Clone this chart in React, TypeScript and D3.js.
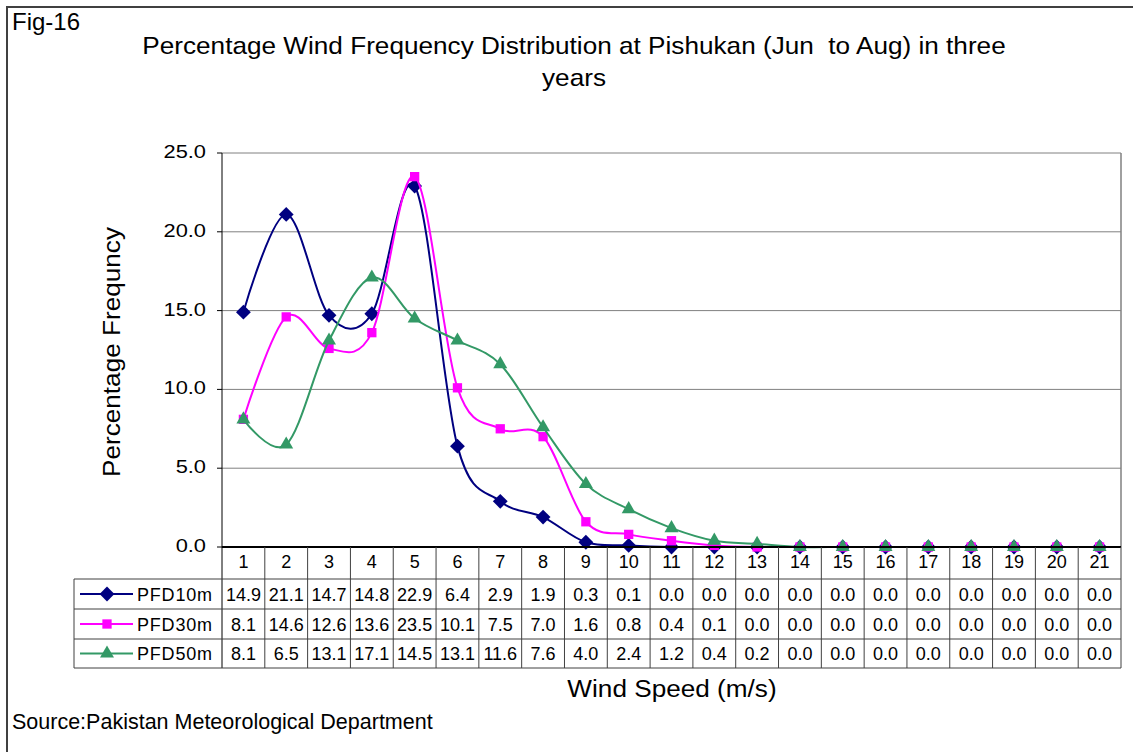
import React from "react";
import * as d3 from "d3";

const categories = ["1","2","3","4","5","6","7","8","9","10","11","12","13","14","15","16","17","18","19","20","21"];
const pfd10 = [14.9,21.1,14.7,14.8,22.9,6.4,2.9,1.9,0.3,0.1,0.0,0.0,0.0,0.0,0.0,0.0,0.0,0.0,0.0,0.0,0.0];
const pfd30 = [8.1,14.6,12.6,13.6,23.5,10.1,7.5,7.0,1.6,0.8,0.4,0.1,0.0,0.0,0.0,0.0,0.0,0.0,0.0,0.0,0.0];
const pfd50 = [8.1,6.5,13.1,17.1,14.5,13.1,11.6,7.6,4.0,2.4,1.2,0.4,0.2,0.0,0.0,0.0,0.0,0.0,0.0,0.0,0.0];
const yTicks = [0, 5, 10, 15, 20, 25];

const series = [
  { name: "PFD10m", values: pfd10, color: "#000080", marker: "diamond" },
  { name: "PFD30m", values: pfd30, color: "#FF00FF", marker: "square" },
  { name: "PFD50m", values: pfd50, color: "#339966", marker: "triangle" },
];

const FONT = "'Liberation Sans', Arial, sans-serif";

function markerPath(type: string) {
  const sym = type === "diamond" ? d3.symbolDiamond2 : type === "square" ? d3.symbolSquare2 : d3.symbolTriangle2;
  const size = type === "diamond" ? 140 : type === "square" ? 110 : 140;
  return d3.symbol(sym, size)()!;
}

export default function App() {
  const W = 1133, H = 752;
  const left = 222, right = 1121, top = 153, bottom = 547;
  const x = d3.scaleBand<string>().domain(categories).range([left, right]).padding(0);
  const cx = (c: string) => (x(c) as number) + x.bandwidth() / 2;
  const y = d3.scaleLinear().domain([0, 25]).range([bottom, top]);
  const line = d3.line<number>().x((_, i) => cx(categories[i])).y((d) => y(d)).curve(d3.curveCardinal.tension(0));

  const rowLines = [547, 579, 609, 639, 668];
  const legendLeft = 74;

  return (
    <svg width={W} height={H} style={{ position: "absolute", left: 0, top: 0, background: "#fff" }} fontFamily={FONT}>
      <rect x={0} y={0} width={W} height={H} fill="#fff" />
      <rect x={7} y={7} width={W + 20} height={H + 20} fill="none" stroke="#404040" strokeWidth={2} />
      <text x={12} y={30} fontSize={24} fill="#000">Fig-16</text>
      <text transform="translate(574,54) scale(1.09,1)" fontSize={24} textAnchor="middle" style={{ whiteSpace: "pre" }}>Percentage Wind Frequency Distribution at Pishukan (Jun  to Aug) in three</text>
      <text transform="translate(574,86) scale(1.09,1)" fontSize={24} textAnchor="middle">years</text>

      {/* gridlines */}
      {yTicks.map((t) => (
        <line key={"g" + t} x1={left} x2={right} y1={y(t)} y2={y(t)} stroke="#808080" strokeWidth={1} />
      ))}
      <line x1={right} x2={right} y1={top} y2={bottom} stroke="#808080" strokeWidth={1.5} />
      <line x1={left} x2={left} y1={top} y2={rowLines[4]} stroke="#000" strokeWidth={1} />
      {yTicks.map((t) => (
        <g key={"t" + t}>
          <line x1={left - 5} x2={left} y1={y(t)} y2={y(t)} stroke="#000" />
          <text transform={`translate(206,${y(t) + 5}) scale(1.18,1)`} fontSize={18.5} textAnchor="end">{t.toFixed(1)}</text>
        </g>
      ))}
      <text transform={`translate(120,${(top + bottom) / 2 + 2}) rotate(-90) scale(1.09,1)`} fontSize={24} textAnchor="middle">Percentage Frequncy</text>

      {/* series */}
      {series.map((s) => (
        <g key={s.name}>
          <path d={line(s.values)!} fill="none" stroke={s.color} strokeWidth={2} />
          {s.values.map((v, i) => (
            <path key={i} d={markerPath(s.marker)} transform={`translate(${cx(categories[i])},${y(v)})`} fill={s.color} />
          ))}
        </g>
      ))}
      <line x1={left} x2={right} y1={bottom} y2={bottom} stroke="#000" strokeWidth={2} />

      {/* table */}
      {categories.map((c) => (
        <g key={"c" + c}>
          <line x1={(x(c) as number) + x.bandwidth()} x2={(x(c) as number) + x.bandwidth()} y1={bottom} y2={rowLines[4]} stroke="#404040" strokeWidth={1} />
          <text x={cx(c)} y={568} fontSize={18} textAnchor="middle">{c}</text>
        </g>
      ))}
      {rowLines.slice(1).map((r, i) => (
        <line key={"r" + i} x1={legendLeft} x2={right} y1={r} y2={r} stroke="#404040" strokeWidth={1} />
      ))}
      <line x1={legendLeft} x2={legendLeft} y1={rowLines[1]} y2={rowLines[4]} stroke="#404040" />
      {series.map((s, si) => {
        const yc = (rowLines[si + 1] + rowLines[si + 2]) / 2;
        return (
          <g key={"row" + s.name}>
            <line x1={80} x2={133} y1={yc} y2={yc} stroke={s.color} strokeWidth={2} />
            <path d={markerPath(s.marker)} transform={`translate(107,${yc})`} fill={s.color} />
            <text x={137} y={yc + 6.5} fontSize={18} letterSpacing={0.8}>{s.name}</text>
            {s.values.map((v, i) => (
              <text key={i} x={cx(categories[i])} y={yc + 6.5} fontSize={18} textAnchor="middle">{v.toFixed(1)}</text>
            ))}
          </g>
        );
      })}
      <text transform="translate(672,697) scale(1.09,1)" fontSize={24} textAnchor="middle">Wind Speed (m/s)</text>
      <text x={12} y={729} fontSize={21.5}>Source:Pakistan Meteorological Department</text>
    </svg>
  );
}
